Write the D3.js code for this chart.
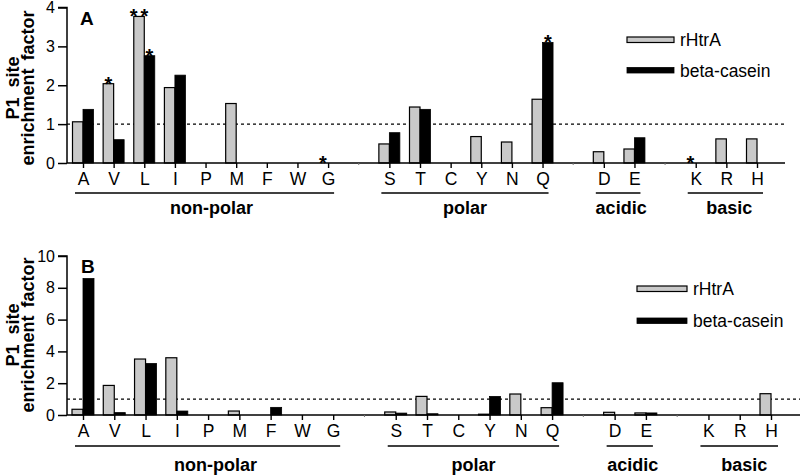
<!DOCTYPE html>
<html>
<head>
<meta charset="utf-8">
<script src="https://cdn.jsdelivr.net/npm/d3@7"></script>
<style>
  html, body { margin: 0; padding: 0; background: #fff; }
  svg { display: block; font-family: "Liberation Sans", Arial, Helvetica, sans-serif; }
</style>
</head>
<body>
<svg id="chart" width="800" height="475"></svg>
<script>
// ---------------- DATA ----------------
const groups = ["non-polar", "polar", "acidic", "basic"];
const groupMembers = [
  ["A", "V", "L", "I", "P", "M", "F", "W", "G"],
  ["S", "T", "C", "Y", "N", "Q"],
  ["D", "E"],
  ["K", "R", "H"]
];
const categories = groupMembers.flat();
const seriesNames = ["rHtrA", "beta-casein"];

// Panel A values (order = categories)
const rHtrA_A =      [1.06, 2.04, 3.77, 1.94, 0, 1.53, 0, 0, 0,  0.49, 1.44, 0, 0.68, 0.54, 1.64,  0.29, 0.36,  0, 0.62, 0.62];
const betaCasein_A = [1.38, 0.60, 2.76, 2.26, 0, 0,    0, 0, 0,  0.78, 1.38, 0, 0,    0,    3.10,  0,    0.65,  0, 0,    0];
const starsA = [
  { cat: "V", series: 0, label: "*" },
  { cat: "L", series: 0, label: "**" },
  { cat: "L", series: 1, label: "*" },
  { cat: "G", series: 0, label: "*" },
  { cat: "Q", series: 1, label: "*" },
  { cat: "K", series: 0, label: "*" }
];
const yTicksA = [0, 1, 2, 3, 4];

// Panel B values
const rHtrA_B =      [0.36, 1.86, 3.52, 3.60, 0, 0.25, 0,    0, 0,  0.19, 1.17, 0, 0.05, 1.32, 0.46,  0.17, 0.13,  0, 0, 1.34];
const betaCasein_B = [8.58, 0.15, 3.24, 0.25, 0, 0,    0.48, 0, 0,  0.12, 0.08, 0, 1.17, 0,    2.03,  0,    0.13,  0, 0, 0];
const starsB = [];
const yTicksB = [0, 2, 4, 6, 8, 10];

const reference = 1;

// ---------------- DRAW ----------------
const svg = d3.select("#chart");
const GRAY = "#c9c9c9";

// slot index: one empty slot between groups
const slotOf = {};
groupMembers.forEach((m, gi) => m.forEach(c => { slotOf[c] = categories.indexOf(c) + gi; }));
const nSlots = categories.length + groups.length - 1;

function panel(cfg) {
  const g = svg.append("g");
  const x = d3.scaleLinear().domain([0, nSlots - 1]).range(cfg.xRange);
  const y = d3.scaleLinear().domain(cfg.yDomain).range(cfg.yRange);
  const bw = cfg.barW;
  const y0 = y(0);

  // reference dashed line
  g.append("line")
    .attr("x1", cfg.axisX).attr("x2", cfg.axisEnd)
    .attr("y1", y(reference)).attr("y2", y(reference))
    .attr("stroke", "#000").attr("stroke-width", 1.4).attr("stroke-dasharray", "3,3");

  // bars
  const data = [];
  categories.forEach((c, i) => {
    [cfg.s0[i], cfg.s1[i]].forEach((v, si) => {
      if (v > 0) data.push({ c, si, v });
    });
  });
  g.selectAll("rect.bar").data(data).join("rect")
    .attr("class", "bar")
    .attr("x", d => d.si === 0 ? x(slotOf[d.c]) - bw : x(slotOf[d.c]))
    .attr("width", bw)
    .attr("y", d => y(d.v))
    .attr("height", d => y0 - y(d.v))
    .attr("fill", d => d.si === 0 ? GRAY : "#000")
    .attr("stroke", "#000")
    .attr("stroke-width", d => d.si === 0 ? 1.2 : 0.8);

  // y axis
  const yAxis = d3.axisLeft(y).tickValues(cfg.yTicks).tickSize(9).tickPadding(3).tickFormat(d3.format("d"));
  const ya = g.append("g").attr("transform", `translate(${cfg.axisX},0)`).call(yAxis);
  ya.select(".domain").attr("stroke-width", 1.5).attr("d", `M-9,${cfg.yRange[1]}H0V${y0}`);
  ya.selectAll(".tick line").attr("stroke-width", 1.5);
  ya.selectAll(".tick text").attr("font-size", 16).attr("fill", "#000")
    .attr("font-family", "'Liberation Sans', Arial, sans-serif");

  // x axis baseline
  g.append("line").attr("x1", cfg.axisX).attr("x2", cfg.axisEnd)
    .attr("y1", y0).attr("y2", y0).attr("stroke", "#000").attr("stroke-width", 1.5);

  // x ticks & labels via axis
  const xAxis = d3.axisBottom(x)
    .tickValues(categories.map(c => slotOf[c]))
    .tickSize(5).tickPadding(5)
    .tickFormat(s => categories.find(c => slotOf[c] === s));
  const xa = g.append("g").attr("transform", `translate(0,${y0})`).call(xAxis);
  xa.select(".domain").remove();
  xa.selectAll(".tick line").attr("stroke-width", 1.4);
  xa.selectAll(".tick text").attr("font-size", 17.5).attr("fill", "#000")
    .attr("font-family", "'Liberation Sans', Arial, sans-serif");

  // tiny marks at empty slots
  for (let gi = 1; gi < groups.length; gi++) {
    const s = slotOf[groupMembers[gi][0]] - 1;
    g.append("line").attr("x1", x(s)).attr("x2", x(s)).attr("y1", y0).attr("y2", y0 + 2)
      .attr("stroke", "#777").attr("stroke-width", 1);
  }

  // group underlines & labels
  groups.forEach((name, gi) => {
    const m = groupMembers[gi];
    const a = x(slotOf[m[0]]) - cfg.ulPad[0], b = x(slotOf[m[m.length - 1]]) + cfg.ulPad[1];
    g.append("line").attr("x1", a).attr("x2", b).attr("y1", cfg.ulY).attr("y2", cfg.ulY)
      .attr("stroke", "#000").attr("stroke-width", 1.4);
    g.append("text").attr("x", (a + b) / 2 + cfg.glShift[gi]).attr("y", cfg.glY)
      .attr("text-anchor", "middle").attr("font-size", 18).attr("font-weight", "bold").text(name);
  });

  // stars
  cfg.stars.forEach(s => {
    const i = categories.indexOf(s.cat);
    const v = s.series === 0 ? cfg.s0[i] : cfg.s1[i];
    const cx = s.series === 0 ? x(slotOf[s.cat]) - bw / 2 : x(slotOf[s.cat]) + bw / 2;
    g.append("text").attr("x", cx + (s.label.length > 1 ? 1.5 : 0)).attr("y", y(v) + 7)
      .attr("text-anchor", "middle").attr("font-size", 20).attr("font-weight", "bold")
      .attr("letter-spacing", s.label.length > 1 ? 3 : 0)
      .text(s.label);
  });

  // panel letter
  g.append("text").attr("x", cfg.letterPos[0]).attr("y", cfg.letterPos[1])
    .attr("font-size", 19).attr("font-weight", "bold").text(cfg.letter);

  // y title
  const yc = cfg.titleY;
  g.append("text").attr("transform", `translate(19,${yc}) rotate(-90)`)
    .attr("text-anchor", "middle").attr("font-size", 18).attr("font-weight", "bold")
    .style("white-space", "pre").text("P1  site");
  g.append("text").attr("transform", `translate(34,${yc}) rotate(-90)`)
    .attr("text-anchor", "middle").attr("font-size", 18).attr("font-weight", "bold")
    .attr("word-spacing", 3).text("enrichment factor");

  // legend
  seriesNames.forEach((n, si) => {
    const ly = cfg.legendY[si];
    g.append("rect").attr("x", cfg.legendX).attr("y", ly - 3).attr("width", cfg.legendW).attr("height", 5.5)
      .attr("fill", si === 0 ? GRAY : "#000").attr("stroke", "#000").attr("stroke-width", si === 0 ? 1.2 : 0.8);
    g.append("text").attr("x", cfg.legendX + cfg.legendW + 6).attr("y", ly + 6)
      .attr("font-size", 17.5).text(n);
  });
}

panel({
  letter: "A", letterPos: [80, 25],
  s0: rHtrA_A, s1: betaCasein_A, stars: starsA, yTicks: yTicksA,
  yDomain: [0, 4], yRange: [163, 7.5],
  xRange: [83, 757], axisX: 67, axisEnd: 785, barW: 10.5,
  ulY: 193, glY: 214, ulPad: [8, 6], glShift: [7, 0, 3, 4],
  titleY: 88,
  legendX: 627, legendW: 47, legendY: [40, 70.5]
});

panel({
  letter: "B", letterPos: [81, 273],
  s0: rHtrA_B, s1: betaCasein_B, stars: starsB, yTicks: yTicksB,
  yDomain: [0, 10], yRange: [415, 256],
  xRange: [83, 771], axisX: 67, axisEnd: 800, barW: 11,
  ulY: 446, glY: 471, ulPad: [8, 7], glShift: [8, 0, 3, 5],
  titleY: 335,
  legendX: 637, legendW: 50, legendY: [289, 321]
});
</script>
</body>
</html>
